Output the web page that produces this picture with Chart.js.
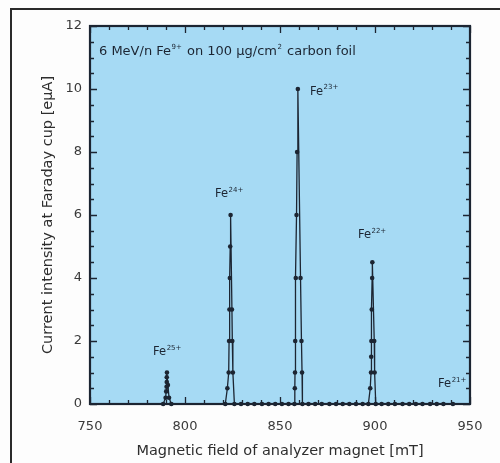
<!DOCTYPE html>
<html><head><meta charset="utf-8">
<script src="https://cdn.jsdelivr.net/npm/chart.js@4.4.0/dist/chart.umd.min.js"></script>
<style>
html,body{margin:0;padding:0;background:#fdfdfd;}
#wrap{position:relative;width:500px;height:463px;overflow:hidden;background:#fdfdfd;}
#frame{position:absolute;left:10px;top:8px;width:600px;height:600px;border-top:2px solid #2a2a2a;border-left:2px solid #2a2a2a;}
canvas{position:absolute;left:0;top:0;}
</style></head><body>
<div id="wrap"><div id="frame"></div><canvas id="c" width="500" height="463"></canvas></div>
<script>
// Scan of analyzer magnet field (mT) vs. Faraday cup current (eμA), in scan order
const fieldMT = [
  788.5, 789.8, 790.1, 790.3, 790.4, 790.4, 790.5, 791.0, 791.6, 792.8,
  821.2, 822.3, 823.0, 823.2, 823.4, 823.6, 823.8, 824.0, 824.7, 824.9, 825.2, 826.0,
  829.5, 833.0, 836.5, 840.5, 844.0, 847.5, 851.0, 854.5,
  857.6, 857.8, 857.9, 858.0, 858.3, 858.7, 859.0, 859.4, 860.8, 861.3, 861.6, 861.8,
  865.0, 868.5, 872.0, 876.0, 879.5, 883.0, 886.5, 890.0, 893.5,
  896.5, 897.5, 897.9, 898.0, 898.1, 898.3, 898.5, 898.6, 899.6, 899.8, 900.4,
  903.5, 907.0, 910.5, 914.5, 918.0, 921.5, 925.0, 929.0, 932.5, 936.0, 941.0
];
const currentEuA = [
  0, 0.2, 0.4, 0.55, 0.7, 0.85, 1.0, 0.6, 0.2, 0,
  0, 0.5, 1, 2, 3, 4, 5, 6, 3, 2, 1, 0,
  0, 0, 0, 0, 0, 0, 0, 0,
  0, 0.5, 1, 2, 4, 6, 8, 10, 4, 2, 1, 0,
  0, 0, 0, 0, 0, 0, 0, 0, 0,
  0, 0.5, 1, 1.5, 2, 3, 4, 4.5, 2, 1, 0,
  0, 0, 0, 0, 0, 0, 0, 0, 0, 0, 0
];
const xTickValues = [750, 800, 850, 900, 950];
const yTickValues = [0, 2, 4, 6, 8, 10, 12];
// Charge-state annotations: label and anchor (mT, eμA)
const peakCharge = ['25+', '24+', '23+', '22+', '21+'];
const peakLabelField = [783.2, 815.8, 865.8, 891.0, 933.2];
const peakLabelCurrent = [1.56, 6.58, 9.82, 5.27, 0.54];

const points = fieldMT.map((x, i) => ({x: x, y: currentEuA[i]}));
const FONT = "'DejaVu Sans', sans-serif";
const INK = '#1c2532';

function drawSup(ctx, x, y, base, sup, size, supScale) {
  ctx.font = size + 'px ' + FONT;
  ctx.fillText(base, x, y);
  const w = ctx.measureText(base).width;
  ctx.font = Math.round(size * (supScale || 0.6)) + 'px ' + FONT;
  ctx.fillText(sup, x + w + 0.5, y - size * 0.45);
  return x + w + 0.5 + ctx.measureText(sup).width;
}

const decor = {
  id: 'decor',
  beforeDraw(chart) {
    const {ctx, chartArea: a} = chart;
    ctx.save();
    ctx.fillStyle = '#a6daf4';
    ctx.fillRect(a.left, a.top, a.right - a.left, a.bottom - a.top);
    ctx.restore();
  },
  afterDatasetsDraw(chart) {
    const {ctx, chartArea: a, scales} = chart;
    const xs = scales.x, ys = scales.y;
    ctx.save();
    ctx.strokeStyle = INK;
    ctx.lineWidth = 1.3;
    ctx.beginPath();
    for (let m = 750; m <= 950; m += 10) {
      const px = Math.round(xs.getPixelForValue(m)) + 0.5;
      const L = (m % 50 === 0) ? 7 : 4;
      ctx.moveTo(px, a.bottom); ctx.lineTo(px, a.bottom - L);
      ctx.moveTo(px, a.top); ctx.lineTo(px, a.top + L);
    }
    for (let v = 0; v <= 12; v += 0.5) {
      const py = Math.round(ys.getPixelForValue(v)) + 0.5;
      const L = (v % 2 === 0) ? 7 : 4;
      ctx.moveTo(a.left, py); ctx.lineTo(a.left + L, py);
      ctx.moveTo(a.right, py); ctx.lineTo(a.right - L, py);
    }
    ctx.stroke();
    ctx.lineWidth = 2.2;
    ctx.strokeRect(a.left, a.top, a.right - a.left, a.bottom - a.top);

    ctx.fillStyle = INK;
    ctx.textBaseline = 'alphabetic';
    ctx.textAlign = 'left';
    for (let i = 0; i < peakCharge.length; i++) {
      drawSup(ctx, xs.getPixelForValue(peakLabelField[i]), ys.getPixelForValue(peakLabelCurrent[i]), 'Fe', peakCharge[i], 11.5, 0.58);
    }
    // header text
    let tx = a.left + 9, ty = a.top + 29;
    tx = drawSup(ctx, tx, ty, '6 MeV/n Fe', '9+', 13, 0.55);
    tx = drawSup(ctx, tx + 1, ty, ' on 100 μg/cm', '2', 13, 0.55);
    ctx.font = '13px ' + FONT;
    ctx.fillText(' carbon foil', tx + 1, ty);
    ctx.restore();
  }
};

new Chart(document.getElementById('c'), {
  type: 'scatter',
  data: {
    datasets: [{
      data: points,
      showLine: true,
      borderColor: INK,
      borderWidth: 1.3,
      pointRadius: 2.3,
      pointBackgroundColor: INK,
      pointBorderWidth: 0,
      clip: false
    }]
  },
  options: {
    responsive: false,
    animation: false,
    devicePixelRatio: 1,
    layout: {padding: {left: 0, top: 26, right: 30, bottom: 0}},
    plugins: {legend: {display: false}, tooltip: {enabled: false}},
    scales: {
      x: {
        type: 'linear', min: 750, max: 950,
        afterBuildTicks: s => { s.ticks = xTickValues.map(v => ({value: v})); },
        afterFit: s => { s.height = 59; },
        grid: {display: false, drawTicks: false},
        border: {display: false},
        ticks: {padding: 15, color: '#3a3a3a', font: {family: FONT, size: 13}},
        title: {display: true, text: 'Magnetic field of analyzer magnet [mT]', color: '#2e2e2e',
                font: {family: FONT, size: 14.5}, padding: {top: 0, bottom: 3}}
      },
      y: {
        type: 'linear', min: 0, max: 12,
        afterBuildTicks: s => { s.ticks = yTickValues.map(v => ({value: v})); },
        afterFit: s => { s.width = 90; },
        grid: {display: false, drawTicks: false},
        border: {display: false},
        ticks: {padding: 8, color: '#3a3a3a', font: {family: FONT, size: 13}},
        title: {display: true, text: 'Current intensity at Faraday cup [eμA]', color: '#2e2e2e',
                font: {family: FONT, size: 14.5}, padding: {top: 40, bottom: 0}}
      }
    }
  },
  plugins: [decor]
});
</script>
</body></html>
